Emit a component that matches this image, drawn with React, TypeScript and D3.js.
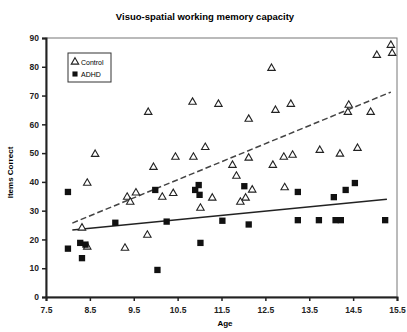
import {useEffect, useRef} from "react";
import * as d3 from "d3";

// Control group (age, items correct)
const controlAge = [15.36, 15.39, 15.04, 12.64, 10.84, 11.43, 13.08, 14.40, 9.83, 12.73, 14.38, 14.90, 12.12,
    11.13, 13.74, 14.60, 8.62, 10.45, 10.86, 12.12, 12.92, 13.12, 14.20, 11.75, 9.95, 12.67, 11.84, 8.44,
    12.94, 12.20, 9.55, 10.40, 9.35, 10.15, 11.29, 12.05, 11.93, 11.02, 9.42, 8.32, 9.81, 8.44, 9.30];
const controlScore = [87.5, 84.7, 84.0, 79.5, 67.7, 67.0, 67.0, 66.7, 64.2, 64.9, 64.2, 64.2, 61.8,
    52.0, 51.0, 51.7, 49.6, 48.6, 48.6, 48.3, 48.6, 49.3, 49.7, 45.8, 45.1, 45.8, 42.0, 39.6,
    38.0, 37.2, 36.2, 36.0, 34.7, 34.7, 34.4, 34.4, 33.0, 30.9, 33.0, 24.0, 21.5, 17.4, 17.0];

// ADHD group
const adhdAge = [8.00, 8.00, 8.28, 8.40, 8.32, 9.08, 9.99, 10.04, 10.25, 10.90, 10.98, 11.00, 11.02, 11.52,
    12.02, 12.12, 13.24, 13.24, 13.72, 14.10, 14.22, 14.06, 14.33, 14.54, 15.23];
const adhdScore = [36.5, 16.8, 18.8, 18.2, 13.5, 25.8, 37.2, 9.4, 26.2, 37.2, 38.9, 35.5, 18.8, 26.5,
    38.5, 25.2, 36.5, 26.7, 26.7, 26.7, 26.7, 34.7, 37.2, 39.6, 26.7];

// linear trend lines: [slope, intercept], and the age span they cover
const controlFit = [6.27, -25.1];
const adhdFit = [1.49, 11.2];
const controlSpan = [8.1, 15.36];
const adhdSpan = [8.1, 15.27];

const xTicks = [7.5, 8.5, 9.5, 10.5, 11.5, 12.5, 13.5, 14.5, 15.5];
const yTicks = [0, 10, 20, 30, 40, 50, 60, 70, 80, 90];

export default function App() {
    const ref = useRef<SVGSVGElement>(null);

    useEffect(() => {
        const width = 407;
        const height = 332;
        const m = {top: 38, right: 10, bottom: 35, left: 46};

        const svg = d3.select(ref.current);
        svg.selectAll("*").remove();

        const x = d3.scaleLinear().domain([7.5, 15.5]).range([m.left, width - m.right]);
        const y = d3.scaleLinear().domain([0, 90]).range([height - m.bottom, m.top]);

        svg.append("rect").attr("width", width).attr("height", height).attr("fill", "white");

        // title
        svg.append("text")
            .attr("x", 205).attr("y", 20)
            .attr("text-anchor", "middle")
            .attr("font-size", 9.5).attr("font-weight", "bold")
            .text("Visuo-spatial working memory capacity");

        // plot frame (top/right)
        svg.append("rect")
            .attr("x", m.left).attr("y", m.top)
            .attr("width", width - m.right - m.left).attr("height", height - m.bottom - m.top)
            .attr("fill", "none").attr("stroke", "#777").attr("stroke-width", 1);

        const xAxis = svg.append("g")
            .attr("transform", `translate(0,${height - m.bottom})`)
            .call(d3.axisBottom(x).tickValues(xTicks).tickSize(4).tickFormat(d3.format(".1f")));
        const yAxis = svg.append("g")
            .attr("transform", `translate(${m.left},0)`)
            .call(d3.axisLeft(y).tickValues(yTicks).tickSize(4));
        [xAxis, yAxis].forEach(a => {
            a.select(".domain").attr("stroke", "#222").attr("stroke-width", 2);
            a.selectAll(".tick line").attr("stroke", "#222").attr("stroke-width", 1.5);
            a.selectAll(".tick text")
                .attr("font-size", 8.5).attr("font-weight", "bold")
                .attr("font-family", "Liberation Sans, Arial, sans-serif").attr("fill", "#222");
        });
        xAxis.selectAll(".tick text").attr("dy", "1.1em");

        svg.append("text")
            .attr("x", 225).attr("y", 326)
            .attr("text-anchor", "middle")
            .attr("font-size", 8).attr("font-weight", "bold")
            .text("Age");
        svg.append("text")
            .attr("transform", `translate(13,${(m.top + height - m.bottom) / 2 + 5}) rotate(-90)`)
            .attr("text-anchor", "middle")
            .attr("font-size", 8).attr("font-weight", "bold")
            .text("Items Correct");

        // trend lines
        const fitLine = (span, fit) => span.map(a => [a, fit[0] * a + fit[1]]);
        const line = d3.line().x(d => x(d[0])).y(d => y(d[1]));
        svg.append("path")
            .attr("d", line(fitLine(controlSpan, controlFit)))
            .attr("fill", "none").attr("stroke", "#444").attr("stroke-width", 1.5)
            .attr("stroke-dasharray", "6,3");
        svg.append("path")
            .attr("d", line(fitLine(adhdSpan, adhdFit)))
            .attr("fill", "none").attr("stroke", "#222").attr("stroke-width", 1.5);

        const tri = d3.symbol().type(d3.symbolTriangle).size(24);
        const sq = d3.symbol().type(d3.symbolSquare).size(40);

        svg.append("g").selectAll("path")
            .data(d3.zip(controlAge, controlScore))
            .join("path")
            .attr("transform", d => `translate(${x(d[0])},${y(d[1])})`)
            .attr("d", tri)
            .attr("fill", "white").attr("stroke", "#222").attr("stroke-width", 1.1);

        svg.append("g").selectAll("path")
            .data(d3.zip(adhdAge, adhdScore))
            .join("path")
            .attr("transform", d => `translate(${x(d[0])},${y(d[1])})`)
            .attr("d", sq)
            .attr("fill", "#111");

        // legend
        const lg = svg.append("g").attr("transform", "translate(68,53)");
        lg.append("rect").attr("width", 43).attr("height", 29)
            .attr("fill", "white").attr("stroke", "#333").attr("stroke-width", 1);
        lg.append("path").attr("transform", "translate(7,9)").attr("d", tri)
            .attr("fill", "white").attr("stroke", "#222").attr("stroke-width", 1.1);
        lg.append("path").attr("transform", "translate(7,21)").attr("d", d3.symbol().type(d3.symbolSquare).size(26))
            .attr("fill", "#111");
        lg.append("text").attr("x", 13).attr("y", 11.5).attr("font-size", 7).text("Control");
        lg.append("text").attr("x", 13).attr("y", 23.5).attr("font-size", 7).text("ADHD");
    }, []);

    return (
        <svg ref={ref} width={407} height={332}
             style={{position: "absolute", left: 0, top: 0, fontFamily: "Liberation Sans, Arial, sans-serif"}}/>
    );
}
